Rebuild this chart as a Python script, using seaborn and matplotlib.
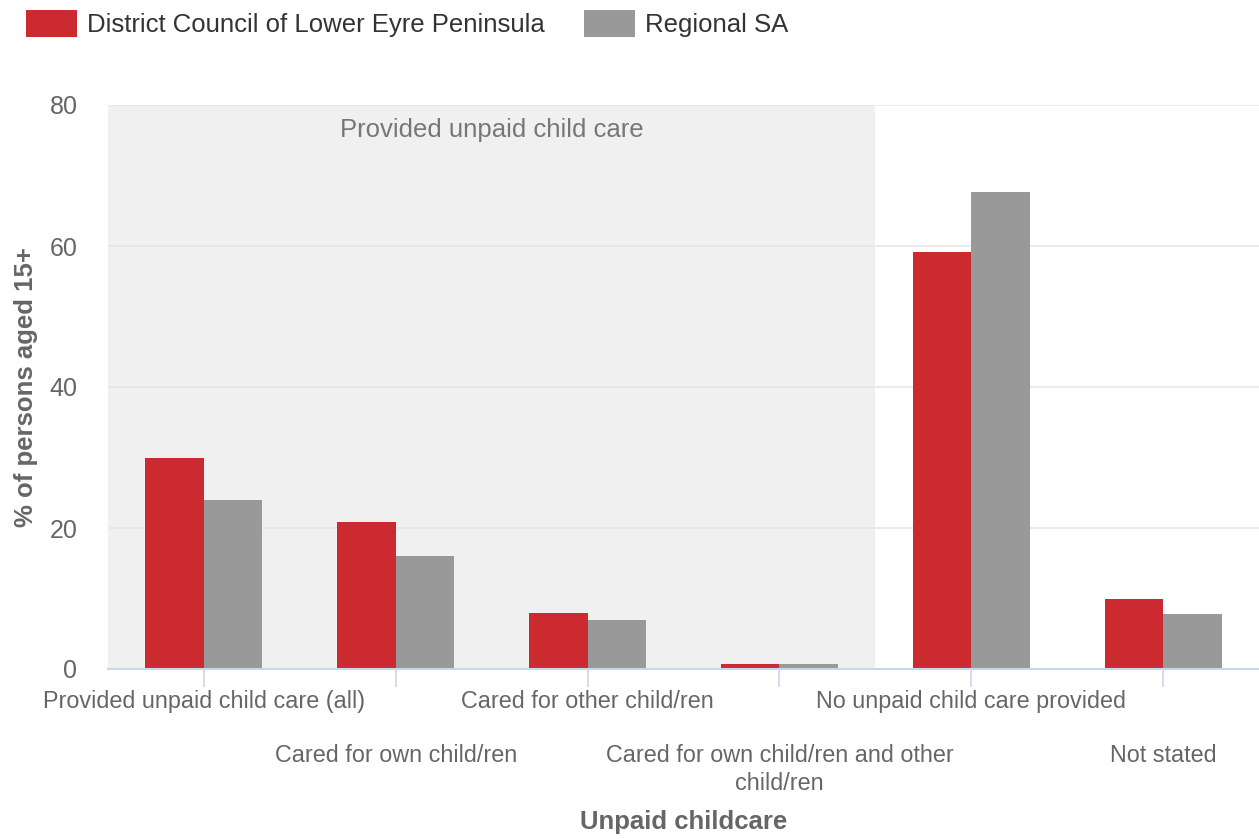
import matplotlib
matplotlib.use("Agg")
import matplotlib.pyplot as plt
import seaborn as sns
import pandas as pd
from matplotlib.patches import Patch

categories = [
    "Provided unpaid child care (all)",
    "Cared for own child/ren",
    "Cared for other child/ren",
    "Cared for own child/ren and other\nchild/ren",
    "No unpaid child care provided",
    "Not stated",
]
district = [30.0, 20.9, 8.0, 0.7, 59.2, 10.0]
regional = [24.0, 16.0, 6.9, 0.7, 67.7, 7.8]
series_names = ["District Council of Lower Eyre Peninsula", "Regional SA"]
colors = ["#cb2b30", "#999999"]
yticks = [0, 20, 40, 60, 80]

df = pd.DataFrame({
    "category": categories * 2,
    "value": district + regional,
    "series": [series_names[0]] * len(categories) + [series_names[1]] * len(categories),
})

sns.set_theme(style="white")
plt.rcParams["font.family"] = ["Liberation Sans", "DejaVu Sans"]

fig = plt.figure(figsize=(12.59, 8.39), dpi=100)
ax = fig.add_axes([108 / 1259, 170 / 839, 1 - 108 / 1259, (669 - 105) / 839])

ax.axvspan(-0.5, 3.5, color="#f0f0f0", zorder=0, lw=0)
ax.text(1.5, 0.956, "Provided unpaid child care", transform=ax.get_xaxis_transform(),
        ha="center", va="center", fontsize=18.5, color="#777777", zorder=1)

sns.barplot(data=df, x="category", y="value", hue="series", palette=colors,
            width=0.61, gap=0, dodge=True, ax=ax, legend=False, zorder=3,
            saturation=1, linewidth=0, errorbar=None)

ax.set_xlim(-0.5, 5.5)
ax.set_ylim(0, 80)
ax.set_yticks(yticks)
ax.set_yticklabels([str(v) for v in yticks])
ax.yaxis.grid(True, color="#e6e6e6", lw=1.2, zorder=1)
ax.set_axisbelow(False)
for l in ax.get_ygridlines():
    l.set_zorder(1)

for s in ["top", "right", "left"]:
    ax.spines[s].set_visible(False)
ax.spines["bottom"].set_color("#ccd6eb")
ax.spines["bottom"].set_linewidth(1.5)
ax.spines["bottom"].set_zorder(4)

ax.tick_params(axis="y", length=0, pad=22, labelsize=18, labelcolor="#666666")
ax.tick_params(axis="x", length=13, width=1.2, color="#ccd6eb", pad=2,
               labelsize=16.8, labelcolor="#666666", direction="out", bottom=True)

ax.set_xticks(range(len(categories)))
ax.set_xticklabels(categories, linespacing=1.27, va="top", ha="center")
for i, tick in enumerate(ax.xaxis.get_major_ticks()):
    if i % 2 == 1:
        tick.set_pad(41)

ax.set_xlabel("Unpaid childcare", fontsize=18.5, fontweight="bold", color="#666666", labelpad=11)
ax.set_ylabel("% of persons aged 15+", fontsize=18.5, fontweight="bold", color="#666666", labelpad=8)

handles = [Patch(facecolor=colors[0], edgecolor="none"), Patch(facecolor=colors[1], edgecolor="none")]
fig.legend(handles, series_names, loc="upper left", bbox_to_anchor=(0.0123, 1.0), ncol=2,
           frameon=False, fontsize=18.5, handlelength=2.0, handleheight=1.2,
           handletextpad=0.4, columnspacing=1.5, labelcolor="#333333", borderaxespad=0.0)

fig.savefig("out.png", dpi=100)
